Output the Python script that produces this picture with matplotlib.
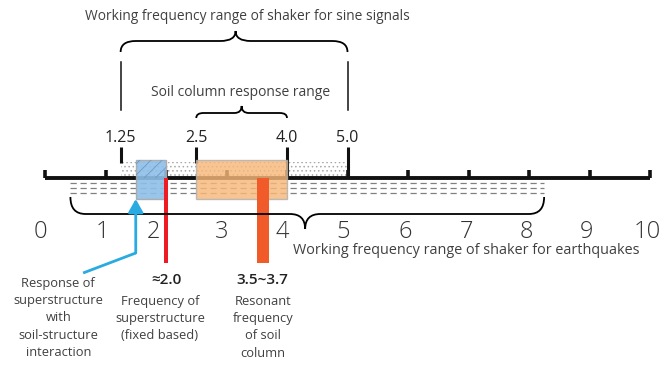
import matplotlib
matplotlib.use("Agg")
import matplotlib.pyplot as plt
from matplotlib.patches import Rectangle, PathPatch
from matplotlib.path import Path

plt.rcParams["hatch.linewidth"] = 0.6

# ---------------- data ----------------
axis_ticks = [0, 1, 2, 3, 4, 5, 6, 7, 8, 9, 10]
axis_labels = ["0", "1", "2", "3", "4", "5", "6", "7", "8", "9", "10"]
axis_label_pos = [-0.08, 0.95, 1.79, 2.92, 3.93, 4.93, 5.95, 6.97, 7.96, 8.95, 9.95]

sine_range = [1.25, 5.0]
soil_range = [2.5, 4.0]
top_values = [1.25, 2.5, 4.0, 5.0]
top_labels = ["1.25", "2.5", "4.0", "5.0"]
ssi_range = [1.5, 2.0]
fixed_freq = 2.0
resonant_range = [3.5, 3.7]
eq_range = [0.42, 8.25]
eq_tip = 4.3
sine_tip = 3.15
soil_tip = 3.25

FONT = "Open Sans"

# ---------------- figure ----------------
fig = plt.figure(figsize=(6.62, 3.67), dpi=100)
ax = fig.add_axes([0, 0, 1, 1])
x0px, scale = 45.0, 60.5
ax.set_xlim(-x0px / scale, (662 - x0px) / scale)
ax.set_ylim(367, 0)
ax.axis("off")

AXIS_Y = 178


def hbrace(xa, xb, xt, y_end, y_mid, y_tip, r=0.22):
    verts = [(xa, y_end), (xa, y_mid), (xa + r, y_mid),
             (xt - r, y_mid), (xt, y_mid), (xt, y_tip),
             (xt, y_mid), (xt + r, y_mid),
             (xb - r, y_mid), (xb, y_mid), (xb, y_end)]
    codes = [Path.MOVETO, Path.CURVE3, Path.CURVE3,
             Path.LINETO, Path.CURVE3, Path.CURVE3,
             Path.CURVE3, Path.CURVE3,
             Path.LINETO, Path.CURVE3, Path.CURVE3]
    ax.add_patch(PathPatch(Path(verts, codes), fc="none", ec="black", lw=1.3, zorder=5))


# dotted region above axis (sine range)
ax.add_patch(Rectangle((sine_range[0], 162), sine_range[1] - sine_range[0], AXIS_Y - 162,
                       fc="none", ec="#a8a8a8", hatch="....", lw=0, zorder=1))

# dashed lines below axis (earthquake range)
for yy in (183, 188, 193):
    ax.plot(eq_range, [yy, yy], color="#808080", lw=0.9, ls=(0, (5, 3)), zorder=1)

# main axis
ax.plot([axis_ticks[0], axis_ticks[-1]], [AXIS_Y, AXIS_Y], color="#111111", lw=2.8,
        solid_capstyle="butt", zorder=2)
for t in axis_ticks:
    ax.plot([t, t], [AXIS_Y, 170], color="#111111", lw=2.6, solid_capstyle="butt", zorder=2)
for p, lab in zip(axis_label_pos, axis_labels):
    ax.text(p, 232, lab, ha="center", va="center", fontsize=17, fontfamily=FONT,
            fontweight="light", color="#333333", zorder=6)

# top ticks at sine/soil range values
for v in top_values:
    ax.plot([v, v], [147, AXIS_Y if v in (4.0, 5.0) else 163], color="#111111", lw=2.2,
            solid_capstyle="butt", zorder=1.5)

for v, lab in zip(top_values, top_labels):
    ax.text(v, 138, lab, ha="center", va="center", fontsize=11.5, fontfamily=FONT,
            fontweight="medium", color="#222222", zorder=6)

# soil column response rectangle (orange)
ax.add_patch(Rectangle((soil_range[0], 160), soil_range[1] - soil_range[0], 39,
                       fc="#f7b879", ec="#b0b0b0", lw=1.0, alpha=0.82, zorder=3))
# SSI response rectangle (blue)
ax.add_patch(Rectangle((ssi_range[0], 160), ssi_range[1] - ssi_range[0], 39,
                       fc="#8fbfe8", ec="#a8a8a8", lw=1.0, alpha=0.9, zorder=3))
ax.add_patch(Rectangle((ssi_range[0], 160), ssi_range[1] - ssi_range[0], 18,
                       fc="none", ec="#6a9acb", hatch="///", lw=0, zorder=3.1))

# frequency bars
ax.add_patch(Rectangle((fixed_freq - 0.04, AXIS_Y), 0.08, 263 - AXIS_Y,
                       fc="#ed1c24", ec="none", zorder=4))
ax.add_patch(Rectangle((resonant_range[0], AXIS_Y), resonant_range[1] - resonant_range[0],
                       263 - AXIS_Y, fc="#f15a29", ec="none", zorder=4))

# thin vertical lines for sine range
for v in sine_range:
    ax.plot([v, v], [62, 110], color="#111111", lw=1.1, zorder=2)

# braces
hbrace(sine_range[0], sine_range[1], sine_tip, 52, 41, 31, r=0.25)
hbrace(soil_range[0], soil_range[1], soil_tip, 118, 113, 106, r=0.12)
hbrace(eq_range[0], eq_range[1], eq_tip, 197, 214, 229, r=0.25)

# text
txt = dict(fontfamily=FONT, color="#404040", ha="center", va="center")
ax.text(3.35, 17, "Working frequency range of shaker for sine signals", fontsize=9.9, **txt)
ax.text(3.24, 92, "Soil column response range", fontsize=10, **txt)
ax.text(6.97, 250, "Working frequency range of shaker for earthquakes", fontsize=10.4, **txt)

# blue arrow
bx = ssi_range[0]
ax.annotate("", xy=(bx, 199), xytext=(bx, 253),
            arrowprops=dict(arrowstyle="-|>,head_width=0.45,head_length=0.8",
                            color="#29abe2", lw=2.0, shrinkA=0, shrinkB=0), zorder=5)
ax.plot([bx, 0.63], [253, 273], color="#29abe2", lw=2.0, solid_capstyle="butt", zorder=5)

# value labels
ax.text(fixed_freq, 280, "≈2.0", fontsize=11, fontfamily=FONT, color="#222222",
        ha="center", va="center", fontweight="semibold")
ax.text(3.6, 280, "3.5~3.7", fontsize=11, fontfamily=FONT, color="#222222",
        ha="center", va="center", fontweight="semibold")

lab_kw = dict(fontfamily=FONT, color="#404040", ha="center", va="top", fontsize=9.3,
              linespacing=1.42)
ax.text(0.22, 277, "Response of\nsuperstructure\nwith\nsoil-structure\ninteraction", **lab_kw)
ax.text(1.9, 295, "Frequency of\nsuperstructure\n(fixed based)", **lab_kw)
ax.text(3.6, 295, "Resonant\nfrequency\nof soil\ncolumn", **lab_kw)

fig.savefig("out.png", dpi=100)
